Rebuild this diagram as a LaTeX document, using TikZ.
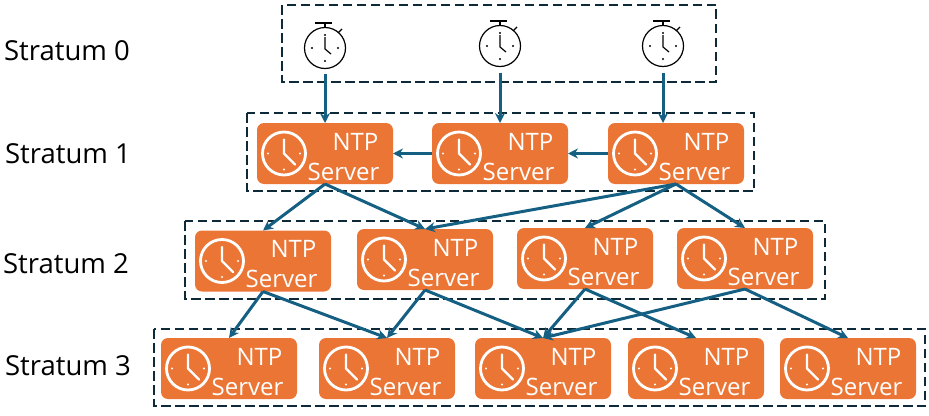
\documentclass[tikz,border=0pt]{standalone}
\usepackage{fontspec}
\setmainfont{Open Sans}
\usetikzlibrary{arrows.meta}
\definecolor{boxorange}{HTML}{EB7535}
\definecolor{linkblue}{HTML}{156082}
\definecolor{framedark}{HTML}{0E2A38}
\tikzset{
  x=1pt,y=-1pt,
  srvbox/.style={fill=boxorange,draw=none,rounded corners=7pt,minimum width=136pt,minimum height=61pt,inner sep=0pt,outer sep=0pt},
  srvtext/.style={text=white,font=\fontsize{24}{24}\selectfont,inner sep=0pt,anchor=base},
  link/.style={draw=linkblue,line width=3pt,-{Stealth[length=10pt,width=10pt]}},
  frame/.style={draw=framedark,line width=1.6pt,dash pattern=on 9.5pt off 4.5pt},
  stratlabel/.style={font=\fontsize{27.5}{27.5}\selectfont,text=black,inner sep=0pt,anchor=base},
  watchnode/.style={circle,draw=black,line width=1.2pt,minimum size=41pt,inner sep=0pt,outer sep=0pt},
}
\newcommand{\srvnode}[3]{%
  \node[srvbox] (#1) at (#2,#3) {};
  \node[srvtext] (#1n) at ([xshift=30.5pt,yshift=3.5pt]#1.center) {NTP};
  \node[srvtext] (#1s) at ([xshift=18.5pt,yshift=-26.5pt]#1.center) {Server};
  \begin{scope}[shift={(#1.center)},draw=white,line cap=round]
    \draw[line width=2.8pt] (-41,0) circle (21.5);
    \draw[line width=2.4pt,line join=round] (-41,-14) -- (-41,0) -- (-30,11);
    \fill[white] (-41,16) circle (1.2) (-57,0) circle (1.2) (-25,0) circle (1.2);
  \end{scope}}
\newcommand{\watchnode}[3]{%
  \node[watchnode] (#1) at (#2,#3) {};
  \begin{scope}[shift={(#1.center)},draw=black,line width=1.2pt]
    \draw (-10,-25) -- (7,-25) (0,-25) -- (0,-20.5);
    \draw (13,-15) -- (17,-19);
    \draw[line join=round] (0,-11) -- (0,1) -- (6,6);
    \fill[black] (0,-13) circle (1.2) (0,13) circle (1.2) (-13,0) circle (1.2) (13,0) circle (1.2);
  \end{scope}}
\begin{document}
\begin{tikzpicture}
\useasboundingbox (0,0) rectangle (929,415);
\draw[frame] (282,5) rectangle (716,82);
\draw[frame] (247,113) rectangle (754,191);
\draw[frame] (185,221) rectangle (825,299);
\draw[frame] (154,329) rectangle (925,406);
\node[stratlabel] (l0) at (67,60) {Stratum 0};
\node[stratlabel] (l1) at (68,163) {Stratum 1};
\node[stratlabel] (l2) at (66,273) {Stratum 2};
\node[stratlabel] (l3) at (68,375) {Stratum 3};
\watchnode{c1}{325}{48}
\watchnode{c2}{500}{46}
\watchnode{c3}{663}{46}
\srvnode{a1}{325}{153.5}
\srvnode{a2}{500}{153.5}
\srvnode{a3}{676}{153.5}
\srvnode{b1}{263}{261}
\srvnode{b2}{425}{259.5}
\srvnode{b3}{585}{258.5}
\srvnode{b4}{745}{258.5}
\srvnode{d1}{229}{368.5}
\srvnode{d2}{387}{368.5}
\srvnode{d3}{543}{368.5}
\srvnode{d4}{696}{368.5}
\srvnode{d5}{848}{368.5}
\draw[link,shorten <=5pt] (c1.south) -- (a1.north);
\draw[link,shorten <=6pt] (c2.south) -- (a2.north);
\draw[link,shorten <=6pt] (c3.south) -- ([xshift=-13pt]a3.north);
\draw[link] (a2.west) -- (a1.east);
\draw[link] (a3.west) -- (a2.east);
\draw[link] (a1.south) -- (b1.north);
\draw[link] (a1.south) -- (b2.north);
\draw[link] (a3.south) -- (b2.north);
\draw[link] (a3.south) -- (b3.north);
\draw[link] (a3.south) -- (b4.north);
\draw[link] (b1.south) -- (d1.north);
\draw[link] (b1.south) -- (d2.north);
\draw[link] (b2.south) -- (d2.north);
\draw[link] (b2.south) -- (d3.north);
\draw[link] (b3.south) -- (d3.north);
\draw[link] (b3.south) -- (d4.north);
\draw[link] (b4.south) -- (d3.north);
\draw[link] (b4.south) -- (d5.north);
\end{tikzpicture}
\end{document}
